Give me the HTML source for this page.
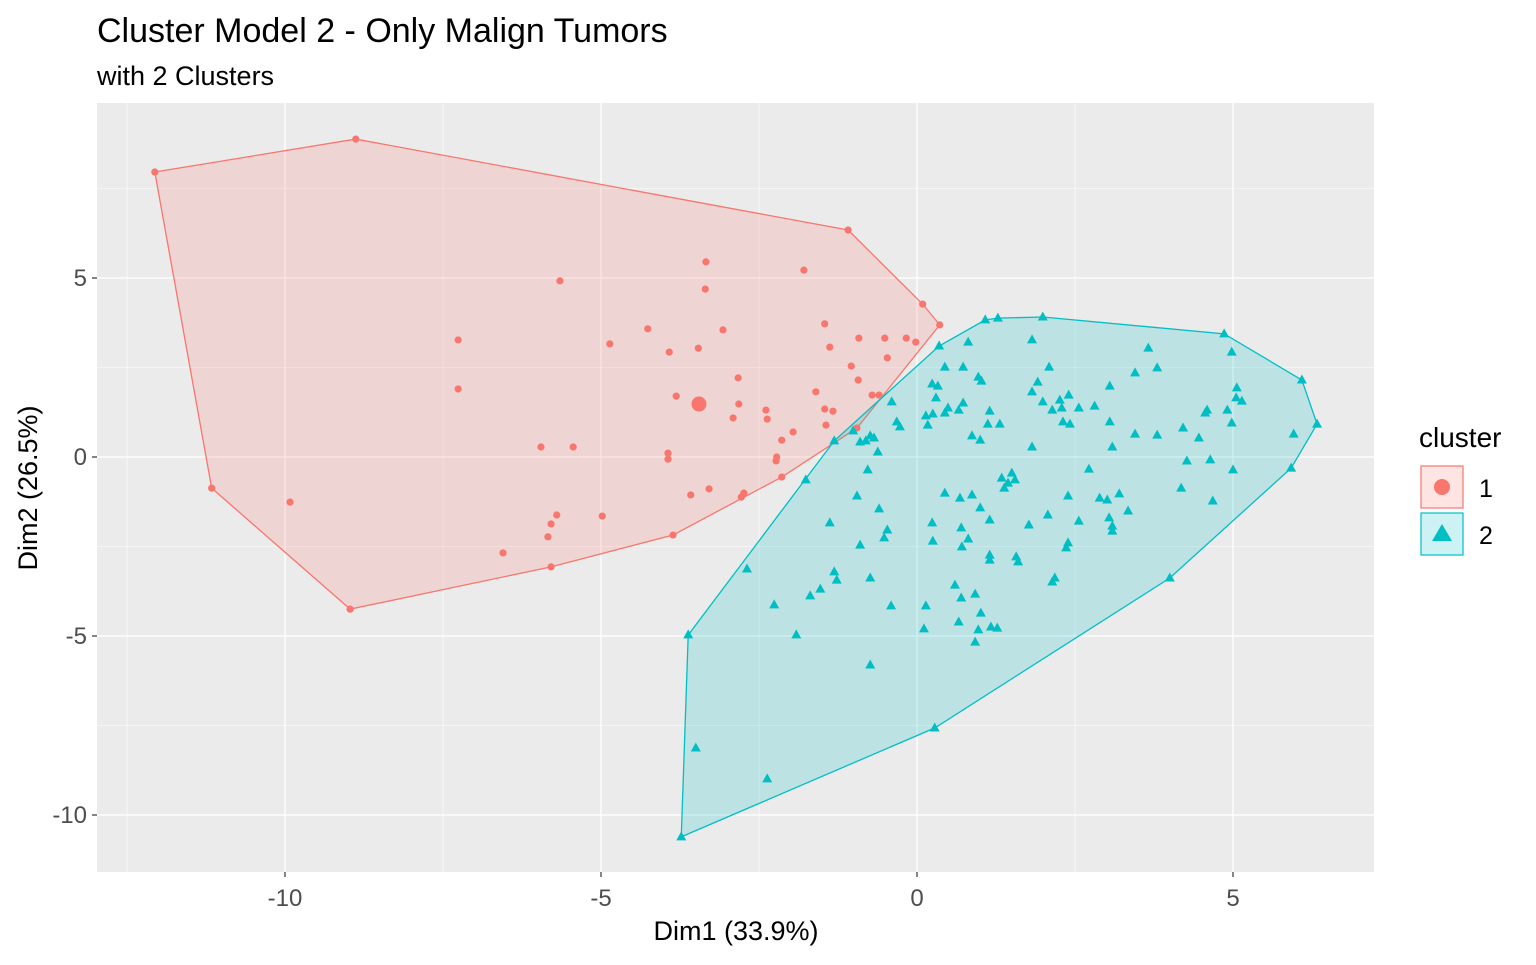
<!DOCTYPE html>
<html><head><meta charset="utf-8"><style>
body{margin:0;background:#fff;}
svg text{font-family:"Liberation Sans",Arial,sans-serif;}
</style></head><body>
<svg id="chart" width="1536" height="960" xmlns="http://www.w3.org/2000/svg">
<rect width="1536" height="960" fill="#fff"/>
<text x="97" y="42" font-size="34" fill="#000">Cluster Model 2 - Only Malign Tumors</text>
<text x="97" y="85" font-size="27" fill="#000">with 2 Clusters</text>
<rect x="97" y="103" width="1277" height="769" fill="#EBEBEB"/>
<g id="grid"></g>
<g id="hulls"></g>
<g id="points"></g>
<g id="axes"></g>
<text x="736" y="940" font-size="27" text-anchor="middle">Dim1 (33.9%)</text>
<text transform="translate(37,488) rotate(-90)" font-size="27" text-anchor="middle">Dim2 (26.5%)</text>
<g>
<text x="1419" y="447" font-size="28">cluster</text>
<g>
<rect x="1421" y="466" width="42" height="42" fill="#F8766D" fill-opacity="0.2" stroke="#F8766D" stroke-width="1.2"/>
<circle cx="1442" cy="487" r="8" fill="#F8766D"/>
<text x="1479" y="497" font-size="25">1</text></g>
<g>
<rect x="1421" y="513" width="42" height="42" fill="#00BFC4" fill-opacity="0.2" stroke="#00BFC4" stroke-width="1.2"/>
<polygon points="1442,524 1452,541 1432,541" fill="#00BFC4"/>
<text x="1479" y="544" font-size="25">2</text></g>
</g>
</svg>
<script>
const xTicks=[-10,-5,0,5];
const yTicks=[5,0,-5,-10];
const xMinor=[-12.5,-7.5,-2.5,2.5];
const yMinor=[7.5,2.5,-2.5,-7.5];
const c1x=[-12.06,-8.88,-1.09,0.09,0.36,-3.86,-5.79,-8.97,-11.16,-9.92,-5.65,-3.34,-3.35,-1.79,-7.26,-7.26,-4.86,-4.26,-3.92,-3.46,-3.07,-2.83,-1.46,-1.38,-0.92,-0.51,-0.17,-0.02,-0.47,-1.04,-0.93,-1.60,-3.81,-2.82,-2.91,-2.39,-2.37,-1.46,-1.33,-1.44,-0.95,-0.71,-0.60,-1.96,-2.14,-5.95,-5.44,-3.94,-3.94,-2.22,-2.23,-2.14,-3.29,-3.58,-2.74,-2.78,-4.98,-5.70,-5.79,-5.84,-6.55];
const c1y=[7.96,8.88,6.34,4.27,3.69,-2.18,-3.07,-4.25,-0.87,-1.26,4.92,5.45,4.69,5.22,3.27,1.90,3.16,3.58,2.93,3.04,3.55,2.21,3.72,3.07,3.32,3.32,3.32,3.21,2.77,2.54,2.15,1.82,1.70,1.48,1.09,1.31,1.06,1.34,1.28,0.89,0.81,1.73,1.73,0.70,0.47,0.28,0.28,0.11,-0.06,0.00,-0.11,-0.56,-0.89,-1.06,-1.01,-1.12,-1.65,-1.62,-1.87,-2.23,-2.68];
const c1center=[-3.45,1.48];
const c2x=[-3.62,-3.73,0.28,4.00,5.92,6.33,6.09,4.86,1.99,1.08,1.28,-1.76,-3.50,-2.37,-2.69,-2.26,-1.91,-1.69,-1.53,-1.31,-1.27,-0.74,-0.74,-0.41,0.14,0.11,0.70,0.66,0.60,0.92,0.97,0.92,1.17,1.27,1.01,-0.90,-0.52,-0.47,-1.38,-0.95,-0.60,-0.78,0.24,0.25,0.44,0.68,0.70,0.71,0.81,0.87,1.15,1.15,1.00,1.15,1.57,1.60,1.34,1.44,1.50,1.55,1.38,1.82,1.77,2.07,2.39,2.36,2.39,2.56,2.14,2.18,2.72,2.89,3.01,3.20,3.04,3.09,3.09,3.34,3.09,3.45,3.80,4.27,4.18,4.68,4.64,4.46,4.21,4.56,4.91,4.98,5.05,5.14,5.06,5.00,4.98,5.96,4.59,3.66,3.80,3.45,3.05,3.05,2.81,2.56,2.40,2.29,2.14,1.99,1.82,1.91,2.09,2.26,2.31,2.42,1.82,0.81,0.35,0.44,0.73,0.97,1.02,0.24,0.33,0.30,0.49,0.44,0.73,0.66,1.15,1.31,1.12,0.87,1.00,0.14,0.17,0.25,-0.32,-0.40,-0.27,-0.74,-0.68,-0.81,-0.90,-1.31,-0.62,-1.01];
const c2y=[-4.97,-10.61,-7.57,-3.38,-0.31,0.92,2.15,3.44,3.91,3.83,3.88,-0.64,-8.13,-8.99,-3.13,-4.13,-4.97,-3.88,-3.69,-3.21,-3.44,-3.38,-5.81,-4.16,-4.16,-4.80,-3.94,-4.61,-3.58,-5.17,-4.83,-3.83,-4.75,-4.78,-4.36,-2.46,-2.26,-2.04,-1.84,-1.09,-1.45,-0.36,-1.84,-2.35,-1.01,-1.15,-1.98,-2.51,-2.29,-1.06,-1.76,-2.74,-1.42,-2.88,-2.79,-2.93,-0.59,-0.73,-0.45,-0.64,-0.87,0.28,-1.90,-1.62,-1.09,-2.54,-2.40,-1.79,-3.49,-3.38,-0.34,-1.15,-1.20,-1.03,-1.70,-1.93,-2.07,-1.51,0.28,0.64,0.61,-0.11,-0.87,-1.23,-0.08,0.53,0.81,1.23,1.31,0.95,1.65,1.56,1.93,-0.36,2.93,0.64,1.31,3.04,2.49,2.35,1.98,0.98,1.42,1.37,1.73,1.37,1.31,1.54,1.82,2.09,2.51,1.59,0.98,0.92,3.27,3.21,3.10,2.51,2.51,2.23,2.12,2.04,1.98,1.65,1.37,1.23,1.51,1.31,1.28,0.92,0.92,0.59,0.47,1.15,0.89,1.20,0.98,1.54,0.84,0.59,0.53,0.45,0.42,0.45,0.14,0.73];

const NS='http://www.w3.org/2000/svg';
const X=v=>917+v*63.2, Y=v=>457-v*35.8;
const L=97,R=1374,T=103,B=872;
function mk(tag,attrs,parent){const e=document.createElementNS(NS,tag);for(const k in attrs)e.setAttribute(k,attrs[k]);parent.appendChild(e);return e;}
const grid=document.getElementById('grid');
xMinor.forEach(v=>{const e=mk('line',{x1:X(v),x2:X(v),y1:T,y2:B,stroke:'#fff','stroke-width':0.6},grid);

});
yMinor.forEach(v=>{const e=mk('line',{x1:L,x2:R,y1:Y(v),y2:Y(v),stroke:'#fff','stroke-width':0.6},grid);

});
const axes=document.getElementById('axes');
xTicks.forEach(v=>{const e=mk('line',{x1:X(v),x2:X(v),y1:T,y2:B,stroke:'#fff','stroke-width':1.3},grid);


mk('line',{x1:X(v),x2:X(v),y1:B,y2:B+5,stroke:'#333','stroke-width':1.2},axes);
const t=mk('text',{x:X(v),y:B+34,'font-size':24,fill:'#4D4D4D','text-anchor':'middle'},axes);t.textContent=v;

});
yTicks.forEach(v=>{const e=mk('line',{x1:L,x2:R,y1:Y(v),y2:Y(v),stroke:'#fff','stroke-width':1.3},grid);


mk('line',{x1:L-5,x2:L,y1:Y(v),y2:Y(v),stroke:'#333','stroke-width':1.2},axes);
const t=mk('text',{x:L-10,y:Y(v)+8,'font-size':24,fill:'#4D4D4D','text-anchor':'end'},axes);t.textContent=v;

});
function hull(xs,ys){let p=xs.map((x,i)=>[X(x),Y(ys[i])]).sort((a,b)=>a[0]-b[0]||a[1]-b[1]);
const cr=(o,a,b)=>(a[0]-o[0])*(b[1]-o[1])-(a[1]-o[1])*(b[0]-o[0]);const lo=[],up=[];
for(const q of p){while(lo.length>=2&&cr(lo[lo.length-2],lo[lo.length-1],q)<=0)lo.pop();lo.push(q);}
for(const q of p.slice().reverse()){while(up.length>=2&&cr(up[up.length-2],up[up.length-1],q)<=0)up.pop();up.push(q);}
return lo.slice(0,-1).concat(up.slice(0,-1));}
const hg=document.getElementById('hulls');
const h1=mk('polygon',{points:hull(c1x,c1y).map(p=>p.join(',')).join(' '),fill:'#F8766D','fill-opacity':0.2,stroke:'#F8766D','stroke-width':1.3},hg);


const h2=mk('polygon',{points:hull(c2x,c2y).map(p=>p.join(',')).join(' '),fill:'#00BFC4','fill-opacity':0.2,stroke:'#00BFC4','stroke-width':1.3},hg);


const pg=document.getElementById('points');
c1x.forEach((x,i)=>{const e=mk('circle',{cx:X(x),cy:Y(c1y[i]),r:3.6,fill:'#F8766D'},pg);

});
const ce=mk('circle',{cx:X(c1center[0]),cy:Y(c1center[1]),r:7.5,fill:'#F8766D'},pg);


c2x.forEach((x,i)=>{const cx=X(x),cy=Y(c2y[i]);
const e=mk('polygon',{points:`${cx},${cy-5.5} ${cx+5},${cy+3.5} ${cx-5},${cy+3.5}`,fill:'#00BFC4'},pg);

});
</script>
</body></html>
